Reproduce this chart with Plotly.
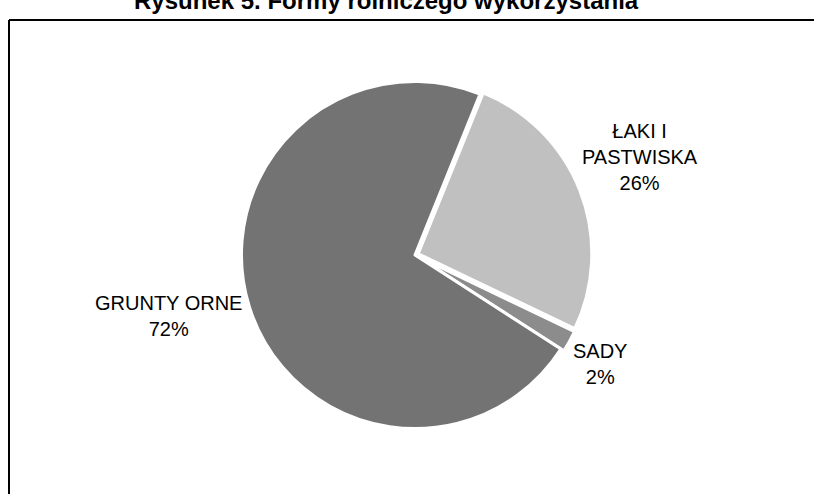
import plotly.graph_objects as go

title_text = "Rysunek 5. Formy rolniczego wykorzystania"
categories = ["ŁAKI I<br>PASTWISKA", "SADY", "GRUNTY ORNE"]
values = [26, 2, 72]
colors = ["#c0c0c0", "#8c8c8c", "#737373"]

W, H, OFF = 814, 494, 0


def px(x):
    return (x - OFF) / W


def py(y):
    return 1 - (y - OFF) / H


total = sum(values)
label_font = dict(family="Liberation Sans, Arial", size=20, color="black")
label_pos = [(640, 157), (600, 364), (168, 316)]

fig = go.Figure(go.Pie(
    labels=categories,
    values=values,
    sort=False,
    direction="clockwise",
    rotation=22,
    marker=dict(colors=colors, line=dict(color="white", width=3)),
    pull=[0.02, 0.02, 0],
    textinfo="none",
    showlegend=False,
    hoverinfo="label+percent",
    automargin=False,
    domain=dict(x=[px(242 - 8), px(588 + 8)], y=[py(255 + 177), py(255 - 177)]),
))

annotations = [dict(text="<b>" + title_text + "</b>", xref="paper", yref="paper",
                    x=px(386), y=py(0), xanchor="center", yanchor="middle",
                    showarrow=False,
                    font=dict(family="Liberation Sans Narrow, Liberation Sans, Arial", size=24, color="black"))]
for cat, val, (lx, ly) in zip(categories, values, label_pos):
    annotations.append(dict(text=f"{cat}<br>{round(100 * val / total)}%",
                            xref="paper", yref="paper", x=px(lx), y=py(ly),
                            xanchor="center", yanchor="middle", showarrow=False,
                            font=label_font))

border = dict(color="black", width=2)
fig.update_layout(
    width=W, height=H,
    margin=dict(l=0, r=0, t=0, b=0, autoexpand=False),
    paper_bgcolor="white",
    plot_bgcolor="white",
    shapes=[
        dict(type="line", xref="paper", yref="paper",
             x0=px(9), x1=1.05, y0=py(20), y1=py(20), line=border),
        dict(type="line", xref="paper", yref="paper",
             x0=px(9), x1=px(9), y0=py(20), y1=-0.05, line=border),
    ],
    annotations=annotations,
)

fig.write_html(
    "out.html",
    config={"displayModeBar": False},
    post_script="document.body.style.margin='0';document.body.style.overflow='hidden';",
)
